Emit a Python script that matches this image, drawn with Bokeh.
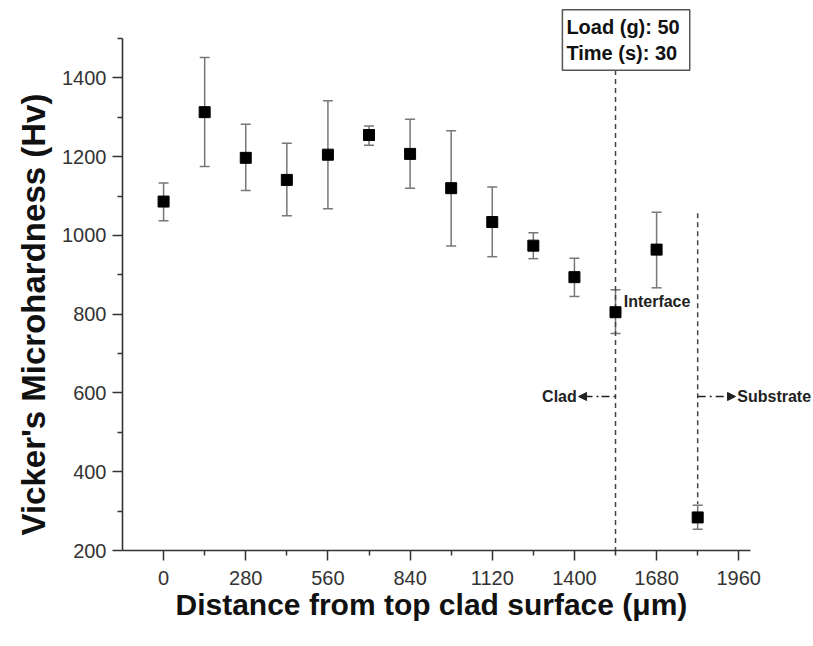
from bokeh.plotting import figure
from bokeh.models import (ColumnDataSource, Whisker, TeeHead, Label, Arrow,
                          NormalHead, FixedTicker, Range1d, Title)
from bokeh.embed import file_html
from bokeh.resources import INLINE

# ---- data ----
distance = [0, 140, 280, 420, 560, 700, 840, 980, 1120, 1260, 1400, 1540, 1680, 1820]
hardness = [1086, 1313, 1197, 1141, 1205, 1255, 1207, 1120, 1034, 974, 894, 805, 964, 284]
err_upper = [1133, 1452, 1282, 1234, 1342, 1278, 1295, 1266, 1123, 1007, 942, 862, 1059, 315]
err_lower = [1037, 1175, 1114, 1050, 1068, 1229, 1120, 973, 946, 941, 845, 751, 867, 254]

x_major_ticks = [0, 280, 560, 840, 1120, 1400, 1680, 1960]
x_minor_ticks = [140, 420, 700, 980, 1260, 1540, 1820]
y_major_ticks = [200, 400, 600, 800, 1000, 1200, 1400]
y_minor_ticks = [300, 500, 700, 900, 1100, 1300, 1500]

interface_x = [1540, 1540]
interface_y = [1420, 200]
substrate_x = [1820, 1820]
substrate_y = [1056, 318]

FONT = "Liberation Sans"

# axis extents and pixel layout
X_MIN, X_MAX = -140, 2000
Y_MIN, Y_MAX = 200, 1500
W, H = 813, 646
LEFT, BOTTOM = 122, 96            # frame left / bottom border in px
AX_W, AX_H = 628, 512              # pixel length of the drawn axes
# the frame extends beyond the axes (to the canvas top/right) so that the
# annotations outside the axes are not clipped
x_end = X_MAX + (W - LEFT - AX_W) * (X_MAX - X_MIN) / AX_W
y_end = Y_MAX + (H - BOTTOM - AX_H) * (Y_MAX - Y_MIN) / AX_H

src = ColumnDataSource(dict(x=distance, y=hardness, up=err_upper, lo=err_lower))

p = figure(width=W, height=H,
           x_range=Range1d(X_MIN, x_end), y_range=Range1d(Y_MIN, y_end),
           output_backend="svg", toolbar_location=None,
           min_border_left=LEFT, min_border_right=0,
           min_border_top=0, min_border_bottom=BOTTOM)

p.xgrid.visible = False
p.ygrid.visible = False
p.outline_line_color = None
p.background_fill_color = "white"
p.border_fill_color = "white"

# axes
for ax in (p.xaxis[0], p.yaxis[0]):
    ax.axis_line_color = "#333333"
    ax.axis_line_width = 1.6
    ax.major_tick_line_color = "#333333"
    ax.minor_tick_line_color = "#333333"
    ax.major_tick_line_width = 1.5
    ax.minor_tick_line_width = 1.5
    ax.major_tick_in = 0
    ax.major_tick_out = 10
    ax.minor_tick_in = 0
    ax.minor_tick_out = 5
    ax.major_label_text_font = FONT
    ax.major_label_text_font_size = "20px"
    ax.major_label_text_color = "#333333"

p.xaxis.bounds = (X_MIN, X_MAX)
p.yaxis.bounds = (Y_MIN, Y_MAX)
p.xaxis.major_label_standoff = 10
p.yaxis.major_label_standoff = 6
p.xaxis.ticker = FixedTicker(ticks=x_major_ticks, minor_ticks=x_minor_ticks)
p.yaxis.ticker = FixedTicker(ticks=y_major_ticks, minor_ticks=y_minor_ticks)

# axis titles (placed as side titles so they can be positioned along the axes)
p.add_layout(Title(text="Distance from top clad surface (\u03bcm)", align="left",
                   offset=53, standoff=0, vertical_align="top",
                   text_font=FONT, text_font_size="30px", text_font_style="bold",
                   text_color="#111111"), "below")
p.add_layout(Title(text="Vicker's  Microhardness (Hv)", align="left",
                   offset=15, standoff=16,
                   text_font=FONT, text_font_size="33px", text_font_style="bold",
                   text_color="#111111"), "left")

# dashed boundary lines
p.line(interface_x, interface_y, line_color="#444444", line_width=1.5, line_dash="5 4")
p.line(substrate_x, substrate_y, line_color="#444444", line_width=1.5, line_dash="5 4")

# error bars
w = Whisker(base="x", upper="up", lower="lo", source=src,
            line_color="#777777", line_width=1.5,
            upper_head=TeeHead(size=10, line_color="#777777", line_width=1.5),
            lower_head=TeeHead(size=10, line_color="#777777", line_width=1.5))
p.add_layout(w)

# markers
p.scatter("x", "y", source=src, marker="square", size=11,
          fill_color="black", line_color="black")

# annotations
ann = dict(text_font=FONT, text_font_size="16px", text_font_style="bold",
           text_color="#222222", text_baseline="middle")
p.add_layout(Label(x=1568, y=832, text="Interface", text_align="left", **ann))
p.add_layout(Label(x=1408, y=591, text="Clad", text_align="right", **ann))
p.add_layout(Label(x=1955, y=591, text="Substrate", text_align="left", **ann))

p.add_layout(Arrow(end=NormalHead(size=8, fill_color="#222222", line_color="#222222"),
                   x_start=1540, y_start=591, x_end=1414, y_end=591,
                   line_color="#222222", line_width=1.5, line_dash="2 4 8 3"))
p.add_layout(Arrow(end=NormalHead(size=8, fill_color="#222222", line_color="#222222"),
                   x_start=1820, y_start=591, x_end=1949, y_end=591,
                   line_color="#222222", line_width=1.5, line_dash="8 4 2 4"))

# test-condition box
p.add_layout(Label(x=1359, y=1573, text="Load (g): 50\nTime (s): 30",
                   text_align="left", text_baseline="top",
                   text_font=FONT, text_font_size="20px", text_font_style="bold",
                   text_color="#111111",
                   border_line_color="#555555", border_line_width=1.5,
                   background_fill_color="white",
                   padding=dict(left=4, right=10, top=6, bottom=6)))

open("out.html", "w").write(file_html(p, INLINE))
